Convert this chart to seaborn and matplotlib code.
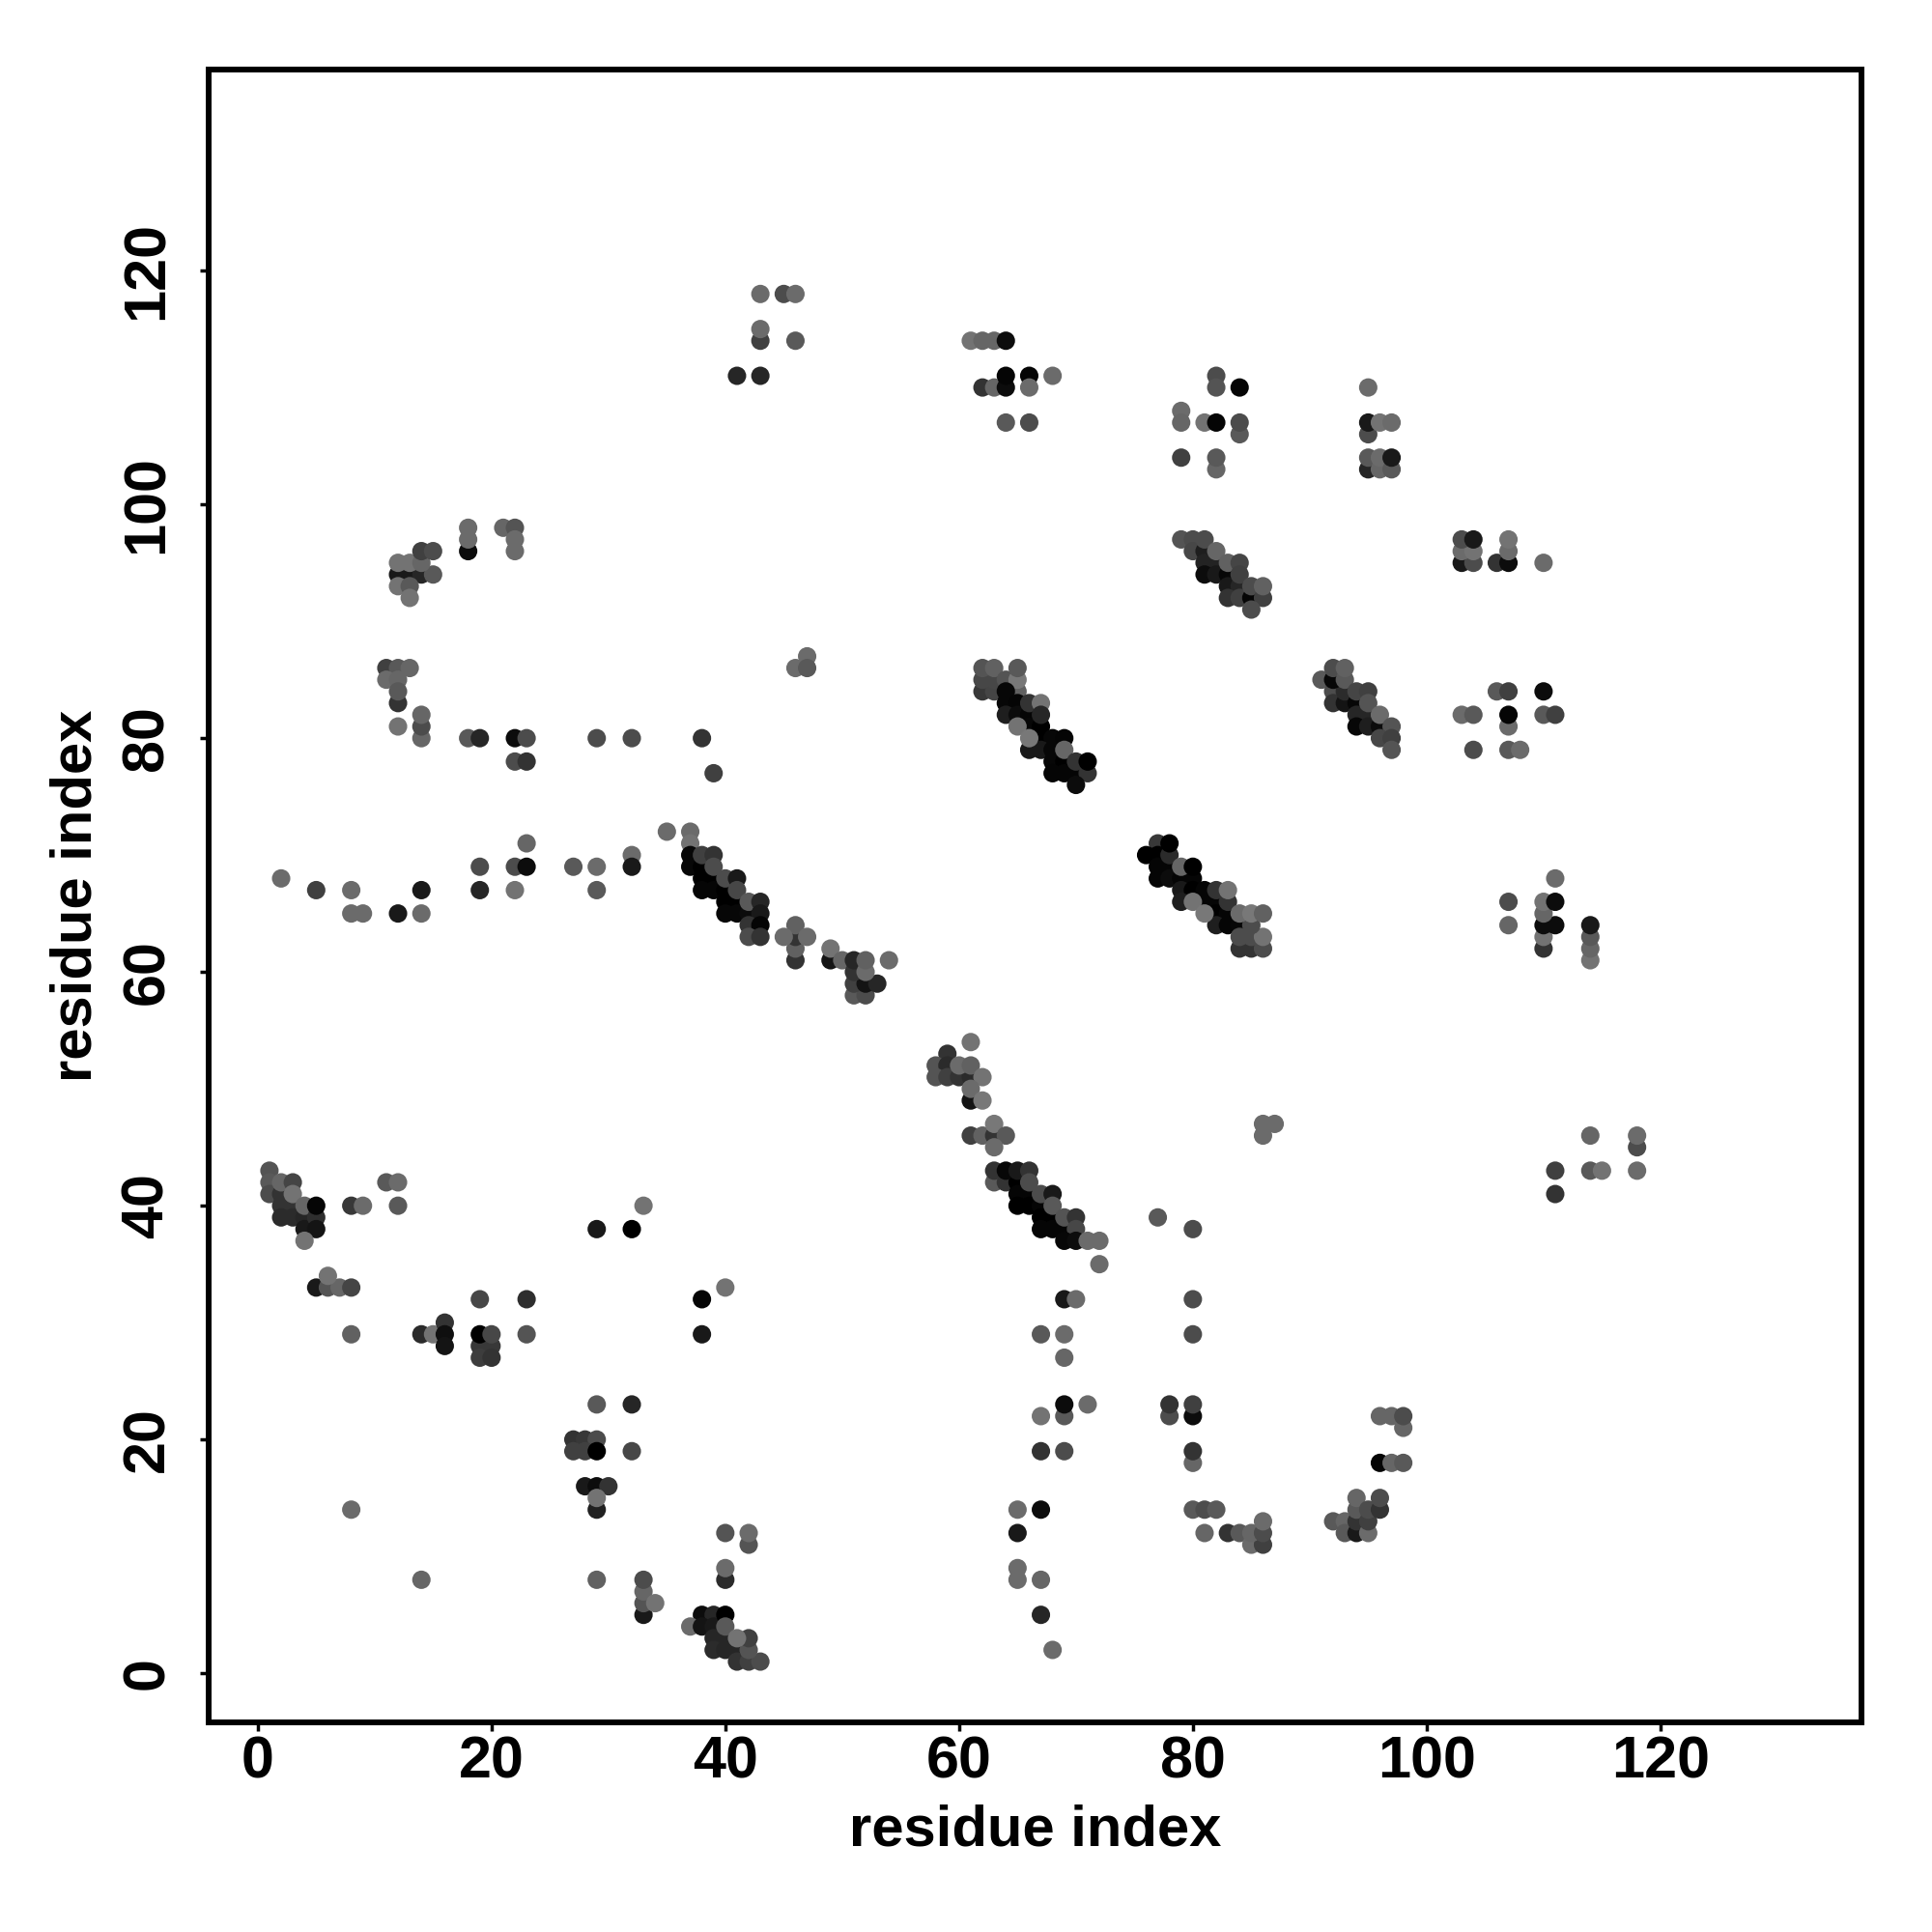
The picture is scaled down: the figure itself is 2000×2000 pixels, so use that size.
#!/usr/bin/env python3
"""Residue contact map, points shaded by contact strength (0 = black)"""

import matplotlib
matplotlib.use('Agg')
import matplotlib.pyplot as plt
import pandas as pd
import seaborn as sns

# (residue i, residue j, shade), one list per region of the map
helix_start = [
    (1, 43, .33), (1, 42, .35), (1, 41, .3), (2, 41, .2), (2, 40, .2), (3, 40, .2), (2, 39, .17), (3, 39, .17),
    (4, 39, .15), (4, 38, .1), (2, 42, .4), (3, 42, .27), (3, 41, .45), (4, 40, .4), (5, 39, .18), (5, 38, .08),
    (4, 37, .45), (5, 40, .02), (8, 40, .22), (9, 40, .42), (11, 42, .35), (12, 42, .42), (12, 40, .35),
    (5, 33, .1), (6, 33, .33), (7, 33, .4), (8, 33, .27), (6, 34, .45), (8, 29, .38),
    (14, 29, .17), (15, 29, .45), (16, 30, .2), (16, 29, .06), (16, 28, .08),
    (19, 32, .28), (23, 32, .18), (19, 28, .22), (20, 28, .22), (19, 27, .24), (20, 27, .2),
    (19, 29, 0), (20, 29, .28), (23, 29, .33),
]
lower_left = [
    (29, 38, .1), (32, 38, 0), (33, 40, .45), (38, 32, .02), (40, 33, .45), (38, 29, .1),
    (29, 23, .35), (32, 23, .15), (27, 20, .2), (28, 20, .22), (29, 20, .3), (27, 19, .25), (28, 19, .25),
    (29, 19, 0), (32, 19, .28), (28, 16, .1), (29, 16, .05), (30, 16, .2), (29, 14, .13), (29, 15, .45),
    (8, 14, .42), (40, 12, .33), (42, 11, .33), (42, 12, .42), (40, 8, .17), (40, 9, .42),
    (14, 8, .4), (29, 8, .38), (33, 5, .1), (33, 6, .33), (33, 7, .4), (33, 8, .3), (34, 6, .45),
    (38, 5, .05), (39, 5, .15), (37, 4, .42), (38, 4, .08), (39, 4, .1), (39, 3, .15), (40, 3, .15),
    (39, 2, .17), (40, 2, .15), (41, 2, .15), (40, 5, 0), (40, 4, .35), (41, 1, .2), (42, 1, .25), (43, 1, .3),
    (42, 2, .33), (42, 3, .25), (41, 3, .45),
]
band_38_70 = [
    (35, 72, .42), (37, 72, .42), (37, 71, .45), (37, 70, .03), (37, 69, .03), (38, 69, 0), (38, 68, 0),
    (39, 68, 0), (38, 67, .02), (39, 67, .02), (40, 67, 0), (40, 66, 0), (41, 66, 0), (40, 65, .03),
    (41, 65, .03), (42, 65, .05), (38, 70, .25), (39, 70, .2), (39, 69, .3), (40, 68, .3), (41, 68, .1),
    (41, 67, .28), (42, 66, .35), (43, 66, .15), (43, 65, .1), (42, 64, .2), (43, 64, .02), (42, 63, .3),
    (43, 63, .2), (46, 61, .2), (46, 62, .38), (46, 63, .2), (46, 64, .38), (45, 63, .42), (47, 63, .42),
    (49, 61, .08), (49, 62, .45), (50, 61, .4), (51, 58, .35), (52, 58, .3), (51, 59, .25), (52, 59, .08),
    (53, 59, .15), (51, 60, .2), (51, 61, .15), (52, 60, .42), (52, 61, .38), (54, 61, .42),
]
band_64_42 = [
    (61, 54, .45), (59, 53, .2), (58, 52, .33), (59, 52, .17), (58, 51, .33), (59, 51, .25), (60, 51, .2),
    (61, 51, .17), (60, 52, .42), (61, 52, .38), (62, 51, .45), (61, 49, .08), (61, 50, .42), (62, 49, .47),
    (61, 46, .25), (62, 46, .38), (63, 46, .2), (63, 47, .47), (64, 46, .35), (63, 45, .42),
    (63, 42, .35), (64, 42, .2), (65, 42, 0), (65, 41, .02), (66, 41, .02), (65, 40, 0), (66, 40, 0),
    (67, 40, .02), (67, 39, 0), (68, 39, 0), (67, 38, .02), (68, 38, .02), (69, 38, .02),
    (63, 43, .2), (64, 43, .03), (65, 43, .1), (66, 43, .2), (66, 42, .3), (67, 41, .3), (68, 41, .1),
    (68, 40, .35), (69, 39, .33), (70, 39, .2), (70, 38, .28), (69, 37, .03), (70, 37, .05),
    (71, 37, .42), (72, 37, .42), (72, 35, .42),
]
band_64_84 = [
    (62, 84, .22), (63, 84, .27), (62, 85, .28), (63, 85, .28), (62, 86, .33), (63, 86, .38), (64, 85, .33),
    (65, 84, .38), (65, 85, .47), (65, 86, .35), (64, 84, .03), (64, 83, .03), (65, 83, .02), (64, 82, .12),
    (65, 82, .05), (66, 82, .02), (66, 81, .03), (67, 81, 0), (67, 80, 0), (68, 80, .03), (66, 79, .1),
    (67, 79, .1), (68, 79, .03), (68, 78, .03), (69, 78, 0), (68, 77, .02), (69, 77, .02), (70, 77, .02),
    (66, 83, .2), (67, 83, .45), (67, 82, .15), (65, 81, .45), (66, 80, .47), (69, 80, .02), (69, 79, .4),
    (70, 78, .2), (71, 77, .2), (71, 78, 0), (70, 76, .05),
]
band_76_70 = [
    (77, 71, .22), (76, 70, 0), (77, 70, 0), (77, 69, .02), (78, 69, .02), (77, 68, .02), (78, 68, .05),
    (79, 68, .02), (80, 68, .02), (79, 67, .1), (80, 67, 0), (81, 67, .02), (79, 66, .12), (81, 66, .02),
    (82, 66, .02), (82, 65, 0), (83, 65, .02), (82, 64, .12), (83, 64, .02), (84, 64, .03), (78, 70, .17),
    (78, 71, 0), (79, 69, .4), (80, 69, 0), (80, 66, .45), (81, 65, .47), (82, 67, .2), (83, 66, .2),
    (83, 67, .45), (84, 62, .2), (85, 62, .2), (86, 62, .3), (84, 63, .3), (85, 63, .3), (86, 63, .45),
    (85, 64, .3), (84, 65, .42), (85, 65, .47), (86, 65, .38),
]
band_80_95 = [
    (79, 97, .33), (80, 97, .3), (80, 96, .28), (81, 96, .12), (81, 95, .14), (82, 95, .14), (81, 94, .05),
    (82, 94, .1), (83, 94, .03), (83, 93, .1), (84, 93, .15), (83, 92, .2), (84, 92, .25), (85, 92, .02),
    (81, 97, .3), (82, 96, .4), (83, 95, .38), (84, 95, .27), (84, 94, .25), (85, 93, .3), (86, 92, .25),
    (86, 93, .38), (85, 91, .3),
]
band_94_83 = [
    (91, 85, .35), (92, 84, .3), (92, 83, .2), (93, 83, .08), (93, 84, .17), (92, 85, .03), (92, 86, .3),
    (93, 85, .35), (93, 86, .38), (94, 83, .03), (94, 82, .15), (95, 82, .15), (94, 81, .03), (95, 81, .12),
    (96, 81, .05), (94, 84, .27), (95, 84, .25), (95, 83, .33), (96, 82, .42), (97, 81, .33), (96, 80, .28),
    (97, 80, .25), (97, 79, .33),
]
upper_left = [
    (43, 118, .42), (45, 118, .3), (46, 118, .42), (43, 114, .25), (43, 115, .42), (46, 114, .35),
    (41, 111, .15), (43, 111, .15), (11, 86, .25), (12, 86, .35), (13, 86, .4), (11, 85, .42), (12, 85, .4),
    (12, 83, .2), (12, 84, .35), (14, 80, .4), (14, 81, .3), (14, 82, .4), (12, 81, .45),
    (12, 94, .1), (13, 94, .1), (14, 94, .15), (15, 94, .35), (12, 93, .45), (13, 93, .35), (13, 92, .45),
    (12, 95, .45), (13, 95, .45), (14, 95, .4), (14, 96, .25), (15, 96, .3),
    (18, 96, .05), (18, 97, .42), (18, 98, .42), (21, 98, .4), (22, 98, .33), (22, 97, .42), (22, 96, .42),
    (18, 80, .35), (19, 80, .15), (22, 78, .3), (23, 78, .2), (22, 80, .05), (23, 80, .3), (29, 80, .3),
    (32, 80, .3), (38, 80, .2), (39, 77, .25), (23, 71, .4), (32, 70, .42), (19, 69, .3), (22, 69, .3),
    (23, 69, .05), (27, 69, .35), (29, 69, .42), (32, 69, .1), (2, 68, .42), (5, 67, .25), (8, 67, .42),
    (14, 67, .1), (19, 67, .15), (22, 67, .45), (29, 67, .35), (8, 65, .42), (9, 65, .42), (12, 65, .1),
    (14, 65, .42), (47, 87, .42), (46, 86, .42), (47, 86, .35),
]
upper_right = [
    (61, 114, .45), (62, 114, .4), (63, 114, .4), (64, 114, .05), (62, 110, .2), (63, 110, .4), (64, 110, .05),
    (64, 111, .02), (66, 111, .02), (66, 110, .42), (68, 111, .42), (64, 107, .35), (66, 107, .3),
    (82, 111, .3), (82, 110, .33), (84, 110, .02), (79, 108, .42), (79, 107, .4), (81, 107, .45), (82, 107, .02),
    (84, 106, .35), (84, 107, .3), (79, 104, .25), (82, 103, .4), (82, 104, .35),
    (95, 110, .42), (95, 106, .3), (95, 107, .1), (96, 107, .45), (97, 107, .42), (95, 103, .15), (95, 104, .35),
    (96, 103, .4), (96, 104, .42), (97, 103, .35), (97, 104, .1),
    (103, 95, .1), (104, 95, .3), (103, 96, .42), (104, 96, .45), (103, 97, .3), (104, 97, .1), (106, 95, .2),
    (107, 95, .05), (107, 96, .42), (107, 97, .45), (110, 95, .42),
    (103, 82, .42), (104, 82, .35), (104, 79, .3), (106, 84, .35), (107, 84, .25), (107, 81, .42), (107, 82, .02),
    (107, 79, .35), (108, 79, .42), (110, 84, .05), (110, 82, .35), (111, 82, .25),
    (107, 66, .3), (107, 64, .4), (110, 62, .2), (110, 63, .45), (110, 64, .05), (111, 64, .05), (110, 65, .4),
    (110, 66, .45), (111, 66, .05), (111, 68, .42), (114, 61, .45), (114, 62, .4), (114, 63, .35), (114, 64, .1),
]
lower_right = [
    (86, 46, .42), (86, 47, .42), (87, 47, .42), (111, 41, .2), (111, 43, .25), (114, 46, .4), (114, 43, .35),
    (115, 43, .45), (118, 45, .3), (118, 46, .42), (118, 43, .42), (77, 39, .35), (80, 38, .3),
    (69, 32, .1), (70, 32, .42), (80, 32, .3), (67, 29, .35), (69, 29, .42), (80, 29, .3), (69, 27, .4),
    (69, 22, .35), (69, 23, .05), (71, 23, .42), (67, 22, .45), (78, 22, .3), (78, 23, .2), (80, 22, .05),
    (80, 23, .25), (67, 19, .2), (69, 19, .3), (80, 18, .4), (80, 19, .2),
    (65, 14, .42), (67, 14, .05), (65, 12, .1), (65, 8, .42), (65, 9, .42), (67, 8, .4), (67, 5, .15), (68, 2, .42),
    (80, 14, .35), (81, 14, .3), (82, 14, .35), (81, 12, .4), (83, 12, .2), (84, 12, .35), (85, 11, .42),
    (86, 11, .25), (85, 12, .4), (86, 12, .3), (86, 13, .42),
    (92, 13, .35), (93, 13, .4), (93, 12, .35), (94, 12, .1), (94, 13, .2), (94, 14, .35), (94, 15, .4),
    (95, 12, .42), (95, 13, .25), (95, 14, .3), (96, 14, .2), (96, 15, .3),
    (96, 22, .4), (97, 22, .4), (98, 21, .4), (98, 22, .3), (96, 18, .02), (97, 18, .4), (98, 18, .35),
]

regions = [helix_start, lower_left, band_38_70, band_64_42, band_64_84, band_76_70,
           band_80_95, band_94_83, upper_left, upper_right, lower_right]
tick_values = [0, 20, 40, 60, 80, 100, 120]
axis_label = 'residue index'


def main():
    contacts = pd.DataFrame([row for region in regions for row in region],
                            columns=['i', 'j', 'shade'])

    sns.set_theme(style='white')
    plt.rcParams['font.family'] = ['Liberation Sans', 'DejaVu Sans']

    fig = plt.figure(figsize=(20, 20), dpi=100)
    ax = fig.add_axes([216 / 2000, 1 - 1783 / 2000, 1711 / 2000, 1711 / 2000])

    sns.scatterplot(data=contacts, x='i', y='j', hue='shade', palette='gray', hue_norm=(0, 1),
                    s=188, linewidth=0, alpha=1, legend=False, ax=ax)

    ax.set_xlim(-4.2, 137.2)
    ax.set_ylim(-4.2, 137.2)
    ax.set_xticks(tick_values)
    ax.set_yticks(tick_values)
    ax.tick_params(axis='both', length=6.5, width=2.5, color='black', labelcolor='black',
                   labelsize=44, bottom=True, left=True)
    ax.tick_params(axis='x', pad=3)
    ax.tick_params(axis='y', pad=18)
    for label in ax.get_xticklabels():
        label.set_fontweight('bold')
    for label in ax.get_yticklabels():
        label.set_fontweight('bold')
        label.set_rotation(90)
        label.set_verticalalignment('center')
    ax.set_xlabel(axis_label, fontsize=43, fontweight='bold', color='black', labelpad=10)
    ax.set_ylabel(axis_label, fontsize=43, fontweight='bold', color='black', labelpad=13)
    for spine in ax.spines.values():
        spine.set_visible(True)
        spine.set_color('black')
        spine.set_linewidth(4.3)

    fig.savefig('out.png', dpi=100, facecolor='white')


if __name__ == '__main__':
    main()
